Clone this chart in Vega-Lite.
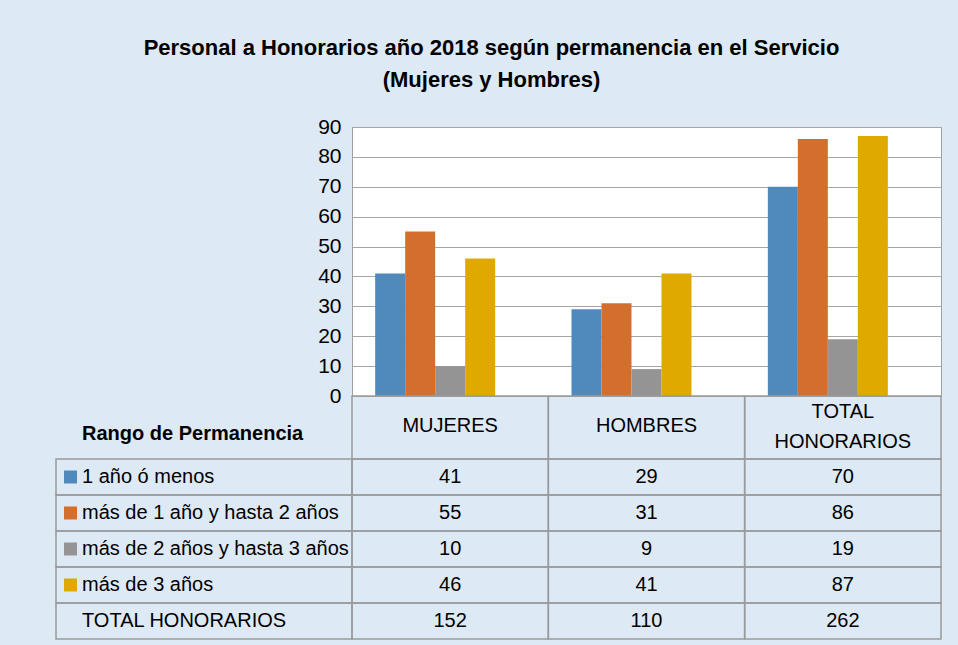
{
  "$schema": "https://vega.github.io/schema/vega-lite/v6.json",
  "background": "#dde9f5",
  "padding": {"left": 55, "top": 36, "right": 18, "bottom": 7},
  "title": {
    "text": ["Personal a Honorarios año 2018 según permanencia en el Servicio", "(Mujeres y Hombres)"],
    "font": "Liberation Sans, Arial, sans-serif",
    "fontSize": 22, "fontWeight": "bold", "lineHeight": 32, "anchor": "middle", "offset": 24, "color": "#000", "dx": -7
  },
  "datasets": {
    "tabla": [
      {"Grupo": "MUJERES", "Rango": "1 año ó menos", "Valor": 41},
      {"Grupo": "MUJERES", "Rango": "más de 1 año y hasta 2 años", "Valor": 55},
      {"Grupo": "MUJERES", "Rango": "más de 2 años y hasta 3 años", "Valor": 10},
      {"Grupo": "MUJERES", "Rango": "más de 3 años", "Valor": 46},
      {"Grupo": "MUJERES", "Rango": "TOTAL HONORARIOS", "Valor": 152},
      {"Grupo": "HOMBRES", "Rango": "1 año ó menos", "Valor": 29},
      {"Grupo": "HOMBRES", "Rango": "más de 1 año y hasta 2 años", "Valor": 31},
      {"Grupo": "HOMBRES", "Rango": "más de 2 años y hasta 3 años", "Valor": 9},
      {"Grupo": "HOMBRES", "Rango": "más de 3 años", "Valor": 41},
      {"Grupo": "HOMBRES", "Rango": "TOTAL HONORARIOS", "Valor": 110},
      {"Grupo": "TOTAL HONORARIOS", "Rango": "1 año ó menos", "Valor": 70},
      {"Grupo": "TOTAL HONORARIOS", "Rango": "más de 1 año y hasta 2 años", "Valor": 86},
      {"Grupo": "TOTAL HONORARIOS", "Rango": "más de 2 años y hasta 3 años", "Valor": 19},
      {"Grupo": "TOTAL HONORARIOS", "Rango": "más de 3 años", "Valor": 87},
      {"Grupo": "TOTAL HONORARIOS", "Rango": "TOTAL HONORARIOS", "Valor": 262}
    ]
  },
  "columns": 2,
  "spacing": 0,
  "bounds": "flush",
  "config": {
    "view": {"stroke": null},
    "font": "Liberation Sans, Arial, sans-serif",
    "text": {"color": "#000"}
  },
  "concat": [
    {
      "width": 296, "height": 269,
      "data": {"values": [{"t": ""}]},
      "mark": {"type": "text"},
      "encoding": {"text": {"field": "t"}}
    },
    {
      "width": 589, "height": 269,
      "data": {"name": "tabla"},
      "transform": [{"filter": "datum.Rango != 'TOTAL HONORARIOS'"}],
      "view": {"fill": "white", "stroke": "#a0a0a0"},
      "mark": {"type": "bar"},
      "encoding": {
        "x": {"field": "Grupo", "type": "nominal", "scale": {"domain": ["MUJERES", "HOMBRES", "TOTAL HONORARIOS"], "paddingInner": 0.236, "paddingOuter": 0.118}, "axis": null},
        "xOffset": {"field": "Rango", "type": "nominal", "scale": {"domain": ["1 año ó menos", "más de 1 año y hasta 2 años", "más de 2 años y hasta 3 años", "más de 3 años", "TOTAL HONORARIOS"], "paddingInner": 0, "paddingOuter": 0}},
        "y": {"field": "Valor", "type": "quantitative", "scale": {"domain": [0, 90], "nice": false},
          "axis": {"values": [0, 10, 20, 30, 40, 50, 60, 70, 80, 90], "title": null, "grid": true, "gridColor": "#a6a6a6", "gridOpacity": 1, "domain": false, "ticks": false, "labelFontSize": 21, "labelColor": "#000", "labelPadding": 11}},
        "color": {"field": "Rango", "type": "nominal", "scale": {"domain": ["1 año ó menos", "más de 1 año y hasta 2 años", "más de 2 años y hasta 3 años", "más de 3 años", "TOTAL HONORARIOS"], "range": ["#508abd", "#d46e2d", "#949494", "#e0a900", "#ffffff"]}, "legend": null}
      }
    },
    {
      "width": 296, "height": 63,
      "data": {"values": [{"t": "Rango de Permanencia"}]},
      "mark": {"type": "text", "align": "left", "baseline": "middle", "dx": 26, "dy": 6, "fontSize": 20, "fontWeight": "bold"},
      "encoding": {"text": {"field": "t"}, "x": {"value": 0}}
    },
    {
      "width": 589, "height": 63,
      "data": {"name": "tabla"},
      "transform": [{"filter": "datum.Rango == '1 año ó menos'"}],
      "encoding": {"x": {"field": "Grupo", "type": "nominal", "scale": {"domain": ["MUJERES", "HOMBRES", "TOTAL HONORARIOS"], "paddingInner": 0, "paddingOuter": 0}, "axis": null}},
      "layer": [
        {"mark": {"type": "bar", "fill": "transparent", "stroke": "#9a9a9a", "strokeWidth": 1.5}},
        {
          "transform": [{"filter": "datum.Grupo != 'TOTAL HONORARIOS'"}],
          "mark": {"type": "text", "fontSize": 20, "baseline": "middle", "dy": -2},
          "encoding": {"text": {"field": "Grupo"}}
        },
        {
          "transform": [{"filter": "datum.Grupo == 'TOTAL HONORARIOS'"}],
          "mark": {"type": "text", "fontSize": 20, "lineBreak": " ", "lineHeight": 30, "baseline": "middle", "dy": -16},
          "encoding": {"text": {"field": "Grupo"}}
        }
      ]
    },
    {
      "width": 296, "height": 180,
      "data": {"name": "tabla"},
      "transform": [{"filter": "datum.Grupo == 'MUJERES'"}],
      "encoding": {
        "y": {"field": "Rango", "type": "nominal", "scale": {"domain": ["1 año ó menos", "más de 1 año y hasta 2 años", "más de 2 años y hasta 3 años", "más de 3 años", "TOTAL HONORARIOS"], "paddingInner": 0, "paddingOuter": 0}, "axis": null}
      },
      "layer": [
        {"mark": {"type": "bar", "fill": "transparent", "stroke": "#9a9a9a", "strokeWidth": 1.5}},
        {
          "transform": [{"filter": "datum.Rango != 'TOTAL HONORARIOS'"}],
          "mark": {"type": "point", "shape": "square", "filled": true, "size": 169, "opacity": 1, "xOffset": 14.5},
          "encoding": {"x": {"value": 0}, "color": {"field": "Rango", "type": "nominal", "scale": {"domain": ["1 año ó menos", "más de 1 año y hasta 2 años", "más de 2 años y hasta 3 años", "más de 3 años", "TOTAL HONORARIOS"], "range": ["#508abd", "#d46e2d", "#949494", "#e0a900", "#ffffff"]}, "legend": null}}
        },
        {
          "mark": {"type": "text", "align": "left", "baseline": "middle", "dx": 26, "fontSize": 20},
          "encoding": {"x": {"value": 0}, "text": {"field": "Rango"}}
        }
      ]
    },
    {
      "width": 589, "height": 180,
      "data": {"name": "tabla"},
      "encoding": {
        "x": {"field": "Grupo", "type": "nominal", "scale": {"domain": ["MUJERES", "HOMBRES", "TOTAL HONORARIOS"], "paddingInner": 0, "paddingOuter": 0}, "axis": null},
        "y": {"field": "Rango", "type": "nominal", "scale": {"domain": ["1 año ó menos", "más de 1 año y hasta 2 años", "más de 2 años y hasta 3 años", "más de 3 años", "TOTAL HONORARIOS"], "paddingInner": 0, "paddingOuter": 0}, "axis": null}
      },
      "layer": [
        {"mark": {"type": "rect", "fill": "transparent", "stroke": "#9a9a9a", "strokeWidth": 1.5}},
        {"mark": {"type": "text", "fontSize": 20, "baseline": "middle"}, "encoding": {"text": {"field": "Valor", "type": "quantitative"}}}
      ]
    }
  ]
}
